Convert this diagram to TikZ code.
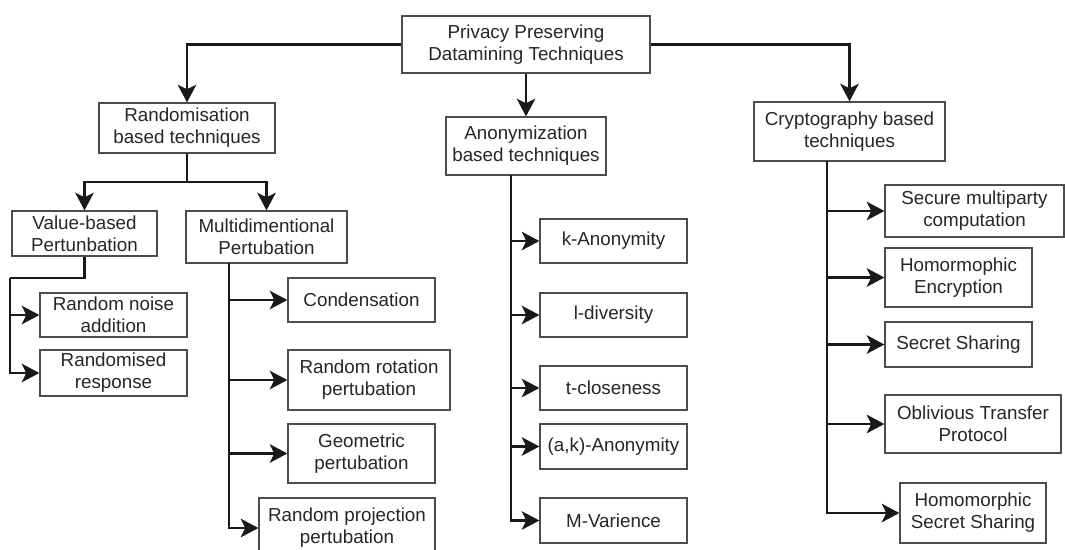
\documentclass[tikz,border=0pt]{standalone}
\usepackage{fontspec}
\setmainfont{Liberation Sans}
\usetikzlibrary{arrows.meta}
\begin{document}
\begin{tikzpicture}[x=0.02cm,y=-0.02cm,
  box/.style={draw=black!70,line width=0.7pt,fill=white,text=black!85,align=center,inner sep=0pt,
    font=\fontsize{10.7}{12.5}\selectfont},
  conn/.style={line width=1.3pt,black!90},
  arr/.style={conn,-{Stealth[length=10pt,width=10.5pt,inset=2.5pt]}}]
\useasboundingbox (0,0) rectangle (1065,549);
% nodes
\node[box,minimum width=248*0.02cm,minimum height=57*0.02cm] (root) at (526,44.5) {Privacy Preserving\\Datamining Techniques};
\node[box,minimum width=176*0.02cm,minimum height=50*0.02cm] (rand) at (187,128) {Randomisation\\based techniques};
\node[box,minimum width=160*0.02cm,minimum height=58*0.02cm] (anon) at (526,146) {Anonymization\\based techniques};
\node[box,minimum width=191*0.02cm,minimum height=59*0.02cm] (crypto) at (849.5,131.5) {Cryptography based\\techniques};
\node[box,minimum width=145*0.02cm,minimum height=45*0.02cm] (value) at (84.5,233.5) {Value-based\\Pertunbation};
\node[box,minimum width=161*0.02cm,minimum height=52*0.02cm] (multi) at (266.5,237) {Multidimentional\\Pertubation};
\node[box,minimum width=147*0.02cm,minimum height=44*0.02cm] (noise) at (113.5,315) {Random noise\\addition};
\node[box,minimum width=147*0.02cm,minimum height=46*0.02cm] (resp) at (113.5,373) {Randomised\\response};
\node[box,minimum width=147*0.02cm,minimum height=44*0.02cm] (cond) at (361.5,300) {Condensation};
\node[box,minimum width=162*0.02cm,minimum height=60*0.02cm] (rot) at (369,380) {Random rotation\\pertubation};
\node[box,minimum width=147*0.02cm,minimum height=59*0.02cm] (geo) at (361.5,453.5) {Geometric\\pertubation};
\node[box,minimum width=176*0.02cm,minimum height=60*0.02cm] (proj) at (347,528) {Random projection\\pertubation};
\node[box,minimum width=147*0.02cm,minimum height=44*0.02cm] (kanon) at (613.5,241) {k-Anonymity};
\node[box,minimum width=147*0.02cm,minimum height=44*0.02cm] (ldiv) at (613.5,315) {l-diversity};
\node[box,minimum width=147*0.02cm,minimum height=44*0.02cm] (tclose) at (613.5,388) {t-closeness};
\node[box,minimum width=147*0.02cm,minimum height=45*0.02cm] (akanon) at (613.5,446.5) {(a,k)-Anonymity};
\node[box,minimum width=147*0.02cm,minimum height=45*0.02cm] (mvar) at (613.5,520.5) {M-Varience};
\node[box,minimum width=179*0.02cm,minimum height=52*0.02cm] (smc) at (974.5,211) {Secure multiparty\\computation};
\node[box,minimum width=147*0.02cm,minimum height=59*0.02cm] (he) at (958.5,277.5) {Homormophic\\Encryption};
\node[box,minimum width=147*0.02cm,minimum height=45*0.02cm] (ss) at (958.5,344.5) {Secret Sharing};
\node[box,minimum width=176*0.02cm,minimum height=58*0.02cm] (otp) at (973,424) {Oblivious Transfer\\Protocol};
\node[box,minimum width=146*0.02cm,minimum height=60*0.02cm] (hss) at (973,513) {Homomorphic\\Secret Sharing};
% junction coordinates
\coordinate (jr) at (187,182);
\coordinate (vbend) at (10,278);
\coordinate (mtop) at (229,263);
\coordinate (atop) at (511,175);
\coordinate (ctop) at (827,161);
% connectors
\draw[arr] (root.west) -| (rand.north);
\draw[arr] (root.south) -- (anon.north);
\draw[arr] (root.east) -| (crypto.north);
\draw[conn] (rand.south) -- (jr);
\draw[arr] (jr) -| (value.north);
\draw[arr] (jr) -| (multi.north);
\draw[conn] (value.south) |- (vbend);
\draw[arr] (vbend) |- (noise.west);
\draw[arr] (vbend) |- (resp.west);
\draw[arr] (mtop) |- (cond.west);
\draw[arr] (mtop) |- (rot.west);
\draw[arr] (mtop) |- (geo.west);
\draw[arr] (mtop) |- (proj.west);
\draw[arr] (atop) |- (kanon.west);
\draw[arr] (atop) |- (ldiv.west);
\draw[arr] (atop) |- (tclose.west);
\draw[arr] (atop) |- (akanon.west);
\draw[arr] (atop) |- (mvar.west);
\draw[arr] (ctop) |- (smc.west);
\draw[arr] (ctop) |- (he.west);
\draw[arr] (ctop) |- (ss.west);
\draw[arr] (ctop) |- (otp.west);
\draw[arr] (ctop) |- (hss.west);
\end{tikzpicture}
\end{document}
